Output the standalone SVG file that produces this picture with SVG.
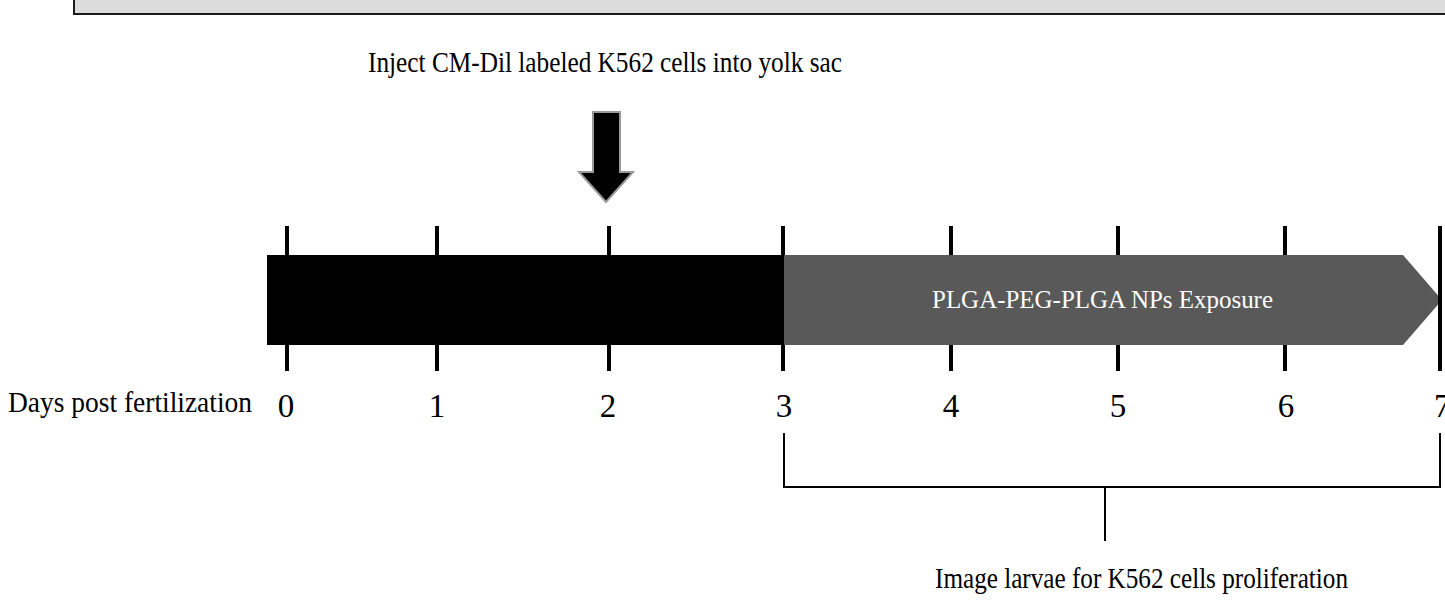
<svg xmlns="http://www.w3.org/2000/svg" width="1445" height="603" viewBox="0 0 1445 603">
<style>
.t{font-family:"Liberation Serif","Times New Roman",serif;fill:#000}
.num{font-size:33px;text-anchor:middle}
.lbl{font-size:30px}
.tick{stroke:#000;stroke-width:4}
.br{stroke:#000;stroke-width:2;fill:none}
</style>
<rect x="0" y="0" width="1445" height="603" fill="#fff"/>
<g id="header">
<rect x="74" y="-5" width="1380" height="19" fill="#dcdcdc" stroke="#1a1a1a" stroke-width="2"/>
</g>
<g id="inject">
<text class="t lbl" x="368" y="72" textLength="474" lengthAdjust="spacingAndGlyphs">Inject CM-Dil labeled K562 cells into yolk sac</text>
</g>
<g id="arrow">
<polygon points="593,112 620,112 620,172 633,172 606,202 579,172 593,172" fill="#000" stroke="#999" stroke-width="2"/>
</g>
<g id="bar-pre">
<rect x="267" y="255" width="517" height="90" fill="#000"/>
</g>
<g id="bar-exposure">
<polygon points="784,255 1403,255 1442,300 1403,345 784,345" fill="#595959"/>
<text class="t" x="932" y="308" font-size="26" textLength="341" lengthAdjust="spacingAndGlyphs" style="fill:#fff">PLGA-PEG-PLGA NPs Exposure</text>
</g>
<g id="ticks">
<line class="tick" x1="287" y1="226" x2="287" y2="255"/><line class="tick" x1="287" y1="345" x2="287" y2="371"/>
<line class="tick" x1="437" y1="226" x2="437" y2="255"/><line class="tick" x1="437" y1="345" x2="437" y2="371"/>
<line class="tick" x1="609" y1="226" x2="609" y2="255"/><line class="tick" x1="609" y1="345" x2="609" y2="371"/>
<line class="tick" x1="783" y1="226" x2="783" y2="255"/><line class="tick" x1="783" y1="345" x2="783" y2="371"/>
<line class="tick" x1="951" y1="226" x2="951" y2="255"/><line class="tick" x1="951" y1="345" x2="951" y2="371"/>
<line class="tick" x1="1118" y1="226" x2="1118" y2="255"/><line class="tick" x1="1118" y1="345" x2="1118" y2="371"/>
<line class="tick" x1="1285" y1="226" x2="1285" y2="255"/><line class="tick" x1="1285" y1="345" x2="1285" y2="371"/>
<line class="tick" x1="1440" y1="226" x2="1440" y2="371"/>
</g>
<g id="axis-labels">
<text class="t lbl" x="8" y="412" textLength="244" lengthAdjust="spacingAndGlyphs">Days post fertilization</text>
<text class="t num" x="286" y="417">0</text>
<text class="t num" x="437" y="417">1</text>
<text class="t num" x="608" y="417">2</text>
<text class="t num" x="784" y="417">3</text>
<text class="t num" x="951" y="417">4</text>
<text class="t num" x="1118" y="417">5</text>
<text class="t num" x="1286" y="417">6</text>
<text class="t" x="1434" y="417" font-size="33">7</text>
</g>
<g id="connectors">
<path class="br" d="M784,433 V487 H1440 V433"/>
<line class="br" x1="1105" y1="487" x2="1105" y2="541"/>
</g>
<g id="image-label">
<text class="t lbl" x="935" y="588" textLength="413" lengthAdjust="spacingAndGlyphs">Image larvae for K562 cells proliferation</text>
</g>
</svg>
